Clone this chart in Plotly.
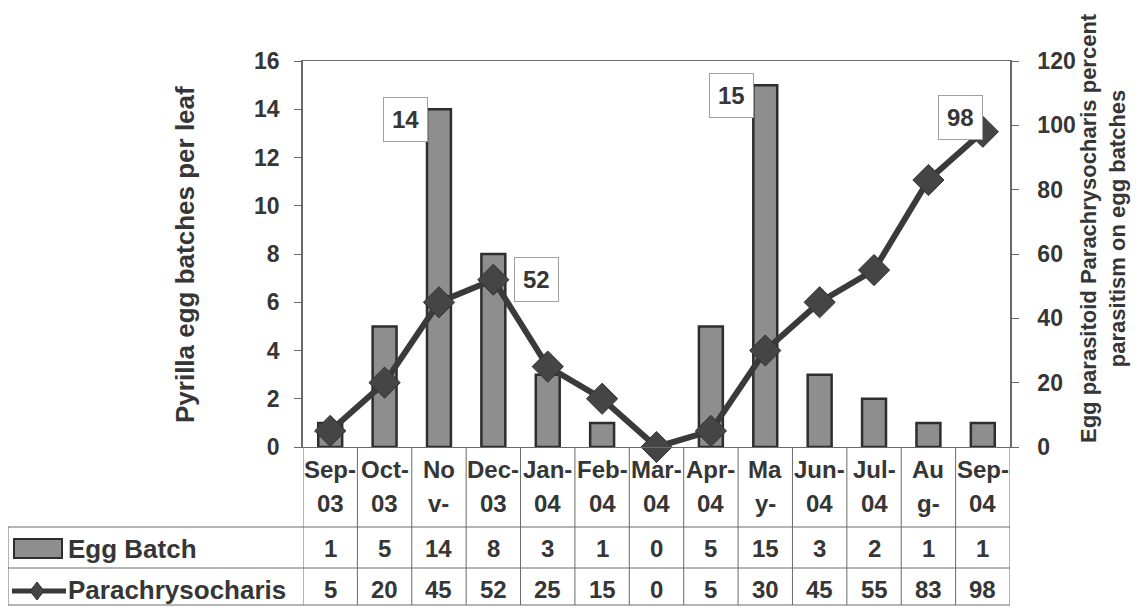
import plotly.graph_objects as go

# ---- data ----
month_labels = ["Sep-\n03", "Oct-\n03", "No\nv-", "Dec-\n03", "Jan-\n04", "Feb-\n04", "Mar-\n04",
                "Apr-\n04", "Ma\ny-", "Jun-\n04", "Jul-\n04", "Au\ng-", "Sep-\n04"]
egg_batch = [1, 5, 14, 8, 3, 1, 0, 5, 15, 3, 2, 1, 1]
parachrysocharis = [5, 20, 45, 52, 25, 15, 0, 5, 30, 45, 55, 83, 98]
left_ticks = [0, 2, 4, 6, 8, 10, 12, 14, 16]
right_ticks = [0, 20, 40, 60, 80, 100, 120]
labelled_bars = [2, 8]
labelled_points = [3, 12]

# ---- layout geometry (screen pixels; page body has an 8px margin) ----
OFF = 8
W, H = 1142 - OFF, 610 - OFF
PL, PR, PT, PB = 303, 1010, 61, 447
pw, ph = PR - PL, PB - PT


def px(x):
    return (x - PL) / pw


def py(y):
    return (PB - y) / ph


FONT = "Liberation Sans, Arial, sans-serif"
TXT = "#363636"
LINE = "#3a3a3a"
GRID = "#6a6a6a"

n = len(month_labels)
xs = list(range(n))

fig = go.Figure()
fig.add_trace(go.Bar(
    x=xs, y=egg_batch, name="Egg Batch",
    marker=dict(color="#8e8e8e", line=dict(color="#2e2e2e", width=2.5)),
    width=0.44, yaxis="y", showlegend=False,
))
fig.add_trace(go.Scatter(
    x=xs, y=parachrysocharis, name="Parachrysocharis", mode="lines+markers",
    line=dict(color=LINE, width=6),
    marker=dict(symbol="diamond", size=24, color="#454545", line=dict(color="#333333", width=1)),
    yaxis="y2", showlegend=False, cliponaxis=False,
))

shapes = []
annotations = []

LBL = dict(family=FONT, size=24, color=TXT)
for i in labelled_bars:
    annotations.append(dict(
        x=xs[i], y=egg_batch[i], xref="x", yref="y", text=f"<b>{egg_batch[i]}</b>",
        showarrow=False, xanchor="right", yanchor="top", xshift=-11, yshift=12,
        font=LBL, bgcolor="white", bordercolor="#a0a0a0", borderwidth=1, borderpad=8,
    ))
annotations.append(dict(
    x=xs[labelled_points[0]], y=parachrysocharis[labelled_points[0]], xref="x", yref="y2",
    text=f"<b>{parachrysocharis[labelled_points[0]]}</b>", showarrow=False,
    xanchor="left", yanchor="middle", xshift=21,
    font=LBL, bgcolor="white", bordercolor="#a0a0a0", borderwidth=1, borderpad=8,
))
annotations.append(dict(
    x=xs[labelled_points[1]], y=parachrysocharis[labelled_points[1]], xref="x", yref="y2",
    text=f"<b>{parachrysocharis[labelled_points[1]]}</b>", showarrow=False,
    xanchor="right", yanchor="middle", xshift=0, yshift=14,
    font=LBL, bgcolor="white", bordercolor="#a0a0a0", borderwidth=1, borderpad=8,
))

# ---- data table below the plot ----
T_HDR_BOT = 527
T_ROW_MID = 568
T_BOT = 605
T_LEFT = 8

for i in range(n + 1):
    xb = i - 0.5
    shapes.append(dict(type="line", xref="x", yref="paper", x0=xb, x1=xb,
                       y0=py(PB), y1=py(T_BOT), line=dict(color=GRID, width=1)))
for yy in (T_HDR_BOT, T_ROW_MID, T_BOT):
    shapes.append(dict(type="line", xref="paper", yref="paper", x0=px(T_LEFT), x1=px(PR),
                       y0=py(yy), y1=py(yy), line=dict(color=GRID, width=1)))
shapes.append(dict(type="line", xref="paper", yref="paper", x0=px(T_LEFT), x1=px(T_LEFT),
                   y0=py(T_HDR_BOT), y1=py(T_BOT), line=dict(color=GRID, width=1)))

CELL = dict(family=FONT, size=24, color=TXT)
for i, lab in enumerate(month_labels):
    top, bot = lab.split("\n")
    for txt, yy in ((top, 469), (bot, 503), (egg_batch[i], 548), (parachrysocharis[i], 589)):
        annotations.append(dict(x=xs[i], y=py(yy), xref="x", yref="paper", text=f"<b>{txt}</b>",
                                showarrow=False, font=CELL, xanchor="center", yanchor="middle"))

# legend keys in table
shapes.append(dict(type="rect", xref="paper", yref="paper", x0=px(14), x1=px(62),
                   y0=py(539), y1=py(558), fillcolor="#8e8e8e", line=dict(color="#2e2e2e", width=2)))
shapes.append(dict(type="line", xref="paper", yref="paper", x0=px(12), x1=px(66),
                   y0=py(591), y1=py(591), line=dict(color=LINE, width=5)))
shapes.append(dict(type="path", xref="paper", yref="paper",
                   path=f"M {px(37)},{py(582)} L {px(44)},{py(591)} L {px(37)},{py(600)} L {px(30)},{py(591)} Z",
                   fillcolor="#454545", line=dict(color="#333333", width=1)))
annotations.append(dict(x=px(66), y=py(549), xref="paper", yref="paper", text="<b>Egg Batch</b>",
                        showarrow=False, xanchor="left", yanchor="middle",
                        font=dict(family=FONT, size=26, color=TXT)))
annotations.append(dict(x=px(66), y=py(590), xref="paper", yref="paper", text="<b>Parachrysocharis</b>",
                        showarrow=False, xanchor="left", yanchor="middle",
                        font=dict(family=FONT, size=26, color=TXT)))

# axis titles
annotations.append(dict(x=px(185), y=py(255), xref="paper", yref="paper",
                        text="<b>Pyrilla egg batches per leaf</b>", textangle=-90, showarrow=False,
                        xanchor="center", yanchor="middle", font=dict(family=FONT, size=26, color=TXT)))
annotations.append(dict(x=px(1103), y=py(228), xref="paper", yref="paper",
                        text="<b>Egg parasitoid Parachrysocharis percent<br>parasitism on egg batches</b>",
                        textangle=-90, showarrow=False, xanchor="center", yanchor="middle",
                        font=dict(family=FONT, size=22, color=TXT)))

TICKF = dict(family=FONT, size=23, color=TXT, weight="bold")
fig.update_layout(
    width=W, height=H,
    margin=dict(l=PL - OFF, r=W - (PR - OFF), t=PT - OFF, b=H - (PB - OFF), pad=0),
    paper_bgcolor="white", plot_bgcolor="white",
    xaxis=dict(range=[-0.5, n - 0.5], showticklabels=False, ticks="", showgrid=False,
               zeroline=False, showline=True, linecolor=GRID, linewidth=1, mirror=True),
    yaxis=dict(range=[0, 16], tickvals=left_ticks, ticks="outside", ticklen=7, tickcolor=GRID,
               showgrid=False, zeroline=False, showline=True, linecolor=GRID, linewidth=1.5,
               tickfont=TICKF, ticklabelstandoff=10),
    yaxis2=dict(range=[0, 120], tickvals=right_ticks, overlaying="y", side="right",
                ticks="outside", ticklen=7, tickcolor=GRID, showgrid=False, zeroline=False,
                showline=True, linecolor=GRID, linewidth=1.5,
                tickfont=TICKF, ticklabelstandoff=14),
    shapes=shapes,
    annotations=annotations,
    showlegend=False,
)

fig.write_html("out.html")
